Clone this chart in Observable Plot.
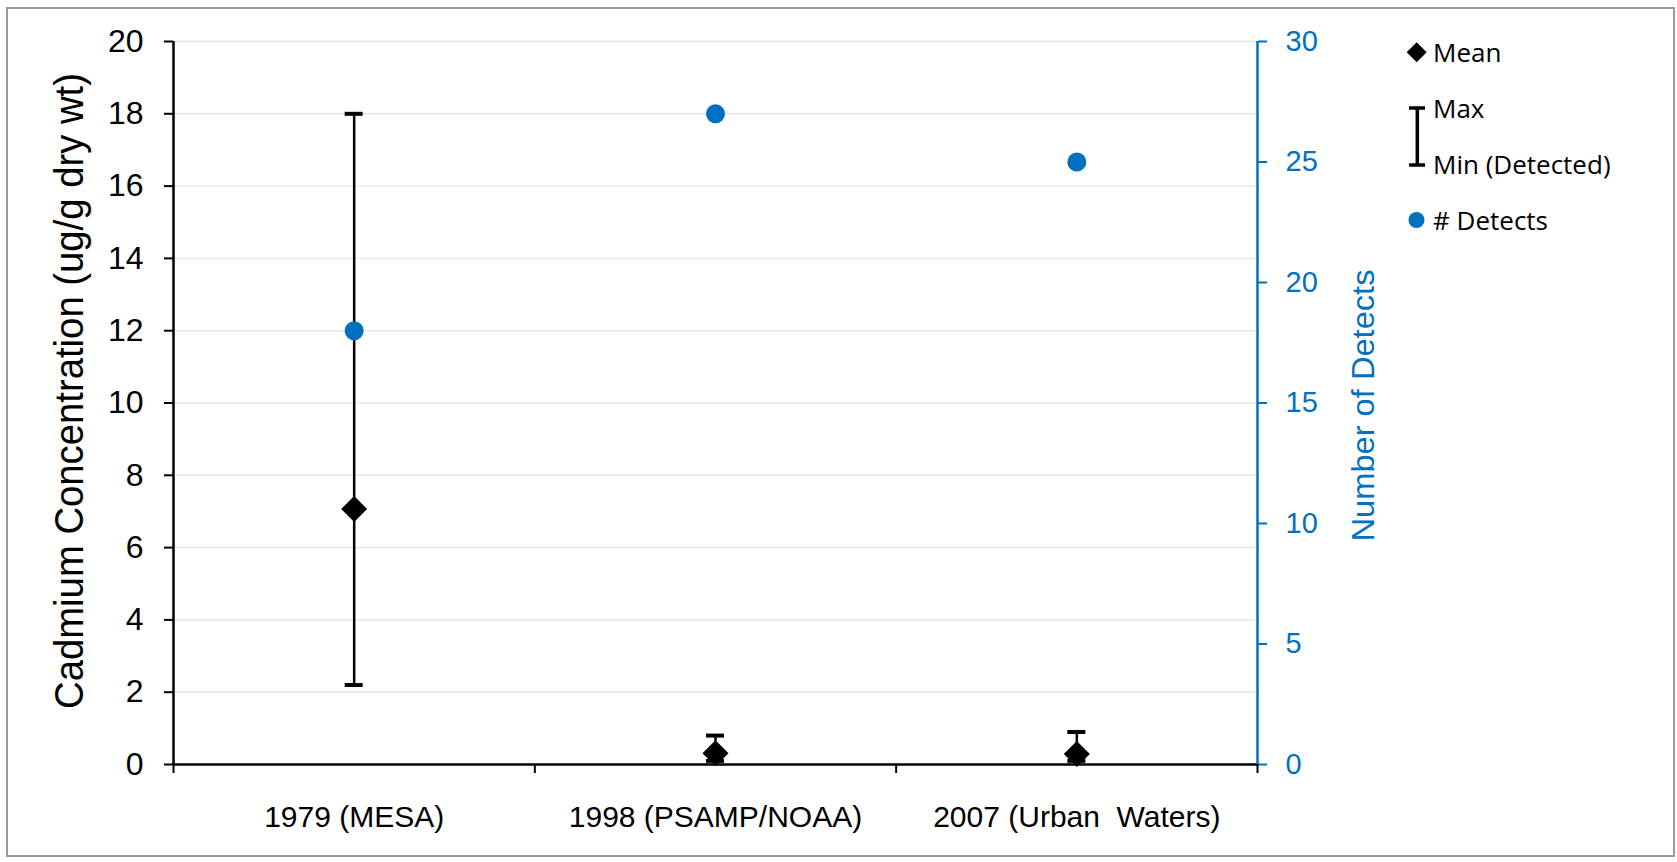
<!DOCTYPE html>
<html>
<head>
<meta charset="utf-8">
<script src="https://cdn.jsdelivr.net/npm/d3@7"></script>
<script src="https://cdn.jsdelivr.net/npm/@observablehq/plot@0.6"></script>
<style>
  html, body { margin: 0; padding: 0; background: #fff; }
  #wrap { position: relative; width: 1677px; height: 862px; overflow: hidden; }
  #frame { position: absolute; left: 6px; top: 7px; width: 1669px; height: 850px; border: 2px solid #9a9a9a; box-sizing: border-box; }
  #chart { position: absolute; left: 0; top: 0; }
  #chart text { white-space: pre; }
  #legend { position: absolute; left: 0; top: 0; pointer-events: none; }
</style>
</head>
<body>
<div id="wrap">
  <div id="frame"></div>
  <div id="chart"></div>
  <svg id="legend" width="1677" height="862"></svg>
</div>
<script>
// Sampling events and cadmium results
const categories = ["1979 (MESA)", "1998 (PSAMP/NOAA)", "2007 (Urban  Waters)"];
const meanValues = [7.07, 0.31, 0.29];
const maxValues = [18, 0.8, 0.9];
const minValues = [2.2, 0.1, 0.1];
const detectCounts = [18, 27, 25];

// Axis ticks (left: concentration, right: number of detects)
const leftTicks = [0, 2, 4, 6, 8, 10, 12, 14, 16, 18, 20];
const rightTicks = [0, 5, 10, 15, 20, 25, 30];
const leftMax = 20;
const rightMax = 30;

const yTitle = "Cadmium Concentration (ug/g dry wt)";
const y2Title = "Number of Detects";
const legendLabels = ["Mean", "Max", "Min (Detected)", "# Detects"];

const blue = "#0070C0";
const toLeft = v => v * leftMax / rightMax;

const rows = categories.map((c, i) => ({
  category: c,
  pos: i + 0.5,
  mean: meanValues[i],
  max: maxValues[i],
  min: minValues[i],
  detects: detectCounts[i]
}));

const chart = Plot.plot({
  width: 1677,
  height: 862,
  marginLeft: 173,
  marginRight: 420,
  marginTop: 41,
  marginBottom: 98,
  style: { fontFamily: "'Liberation Sans', Arial, sans-serif", background: "transparent", overflow: "visible" },
  x: { type: "linear", domain: [0, categories.length], axis: null },
  y: { domain: [0, leftMax], axis: null },
  marks: [
    // horizontal gridlines
    Plot.ruleY(leftTicks.filter(d => d > 0), { stroke: "#e8e8e8", strokeWidth: 1.5 }),
    // left axis
    Plot.axisY({ anchor: "left", ticks: leftTicks, tickFormat: d => d, tickSize: 9, tickPadding: 21,
                 fontSize: 32, stroke: "#000", strokeWidth: 2, fill: "#000", label: null }),
    // right axis (number of detects mapped onto the left scale)
    Plot.axisY({ anchor: "right", ticks: rightTicks.map(toLeft), tickFormat: d => Math.round(d * rightMax / leftMax),
                 tickSize: 9, tickPadding: 19, fontSize: 29, stroke: blue, strokeWidth: 2, fill: blue, label: null }),
    // category labels and boundary ticks
    Plot.axisX({ ticks: rows.map(d => d.pos), tickFormat: d => categories[Math.floor(d)], tickSize: 0,
                 tickPadding: 41, fontSize: 30, fill: "#000", label: null }),
    Plot.axisX({ ticks: d3.range(0, categories.length + 1), tickFormat: () => "", tickSize: 9,
                 stroke: "#000", strokeWidth: 2, label: null }),
    // axis lines
    Plot.ruleX([0], { stroke: "#000", strokeWidth: 2.5 }),
    Plot.ruleY([0], { stroke: "#000", strokeWidth: 2.5 }),
    Plot.ruleX([categories.length], { stroke: blue, strokeWidth: 2.5 }),
    // min–max range bars
    Plot.ruleX(rows, { x: "pos", y1: "min", y2: "max", stroke: "#000", strokeWidth: 2.5 }),
    Plot.ruleY(rows, { x1: "pos", x2: "pos", y: "max", insetLeft: -9, insetRight: -9, stroke: "#000", strokeWidth: 4 }),
    Plot.ruleY(rows, { x1: "pos", x2: "pos", y: "min", insetLeft: -9, insetRight: -9, stroke: "#000", strokeWidth: 4 }),
    // means
    Plot.dot(rows, { x: "pos", y: "mean", symbol: "diamond2", r: 11.7, fill: "#000", stroke: "none" }),
    // detect counts
    Plot.dot(rows, { x: "pos", y: d => toLeft(d.detects), r: 9.5, fill: blue, stroke: "none" }),
    // axis titles
    Plot.text([yTitle], { frameAnchor: "left", textAnchor: "middle", rotate: -90, dx: -103, dy: -12,
                          fontSize: 40, fill: "#000" }),
    Plot.text([y2Title], { frameAnchor: "right", textAnchor: "middle", rotate: -90, dx: 106, dy: 2.5,
                           fontSize: 32, fill: blue })
  ]
});

document.getElementById("chart").appendChild(chart);

// condensed / stretched axis titles
d3.select(chart).selectAll("text")
  .filter(function () { return this.textContent === yTitle; })
  .attr("textLength", 636).attr("lengthAdjust", "spacingAndGlyphs");
d3.select(chart).selectAll("text")
  .filter(function () { return this.textContent === y2Title; })
  .attr("textLength", 272).attr("lengthAdjust", "spacingAndGlyphs");

// legend
const lg = d3.select("#legend");
const legendFont = "'Open Sans', 'Noto Sans', sans-serif";
lg.append("path")
  .attr("d", d3.symbol(d3.symbolDiamond2, 255)())
  .attr("transform", "translate(1416.7,52.3)")
  .attr("fill", "#000");
lg.append("line").attr("x1", 1417.3).attr("x2", 1417.3).attr("y1", 108).attr("y2", 165)
  .attr("stroke", "#000").attr("stroke-width", 3.5);
lg.append("line").attr("x1", 1409).attr("x2", 1425).attr("y1", 108).attr("y2", 108)
  .attr("stroke", "#000").attr("stroke-width", 3.5);
lg.append("line").attr("x1", 1409).attr("x2", 1425).attr("y1", 165).attr("y2", 165)
  .attr("stroke", "#000").attr("stroke-width", 3.5);
lg.append("circle").attr("cx", 1416.5).attr("cy", 220).attr("r", 8).attr("fill", blue);

const legendY = [61.5, 118, 174, 229.5];
legendLabels.forEach((t, i) => {
  lg.append("text")
    .attr("x", 1433)
    .attr("y", legendY[i])
    .attr("font-family", legendFont)
    .attr("font-size", 26)
    .attr("fill", "#000")
    .text(t);
});
</script>
</body>
</html>
